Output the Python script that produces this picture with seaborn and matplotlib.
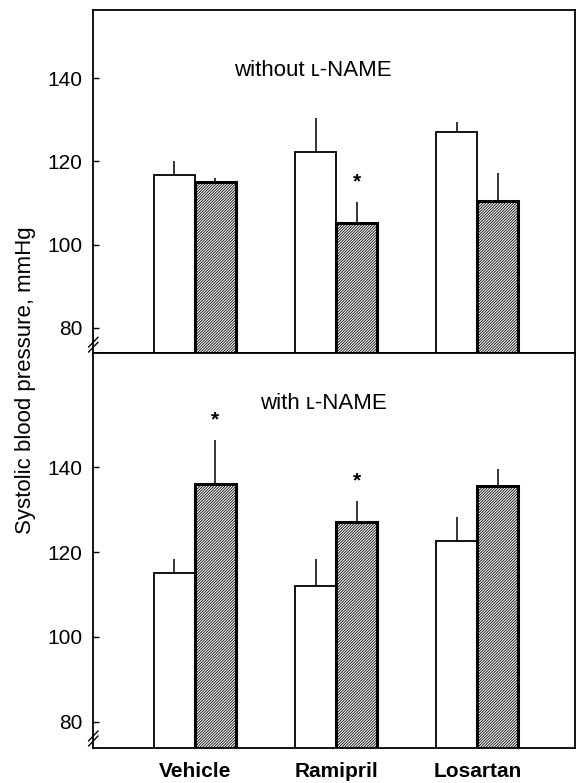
import matplotlib
matplotlib.use("Agg")
import matplotlib.pyplot as plt
import matplotlib.transforms as mtransforms
import pandas as pd
import seaborn as sns

drugs = ["Vehicle", "Ramipril", "Losartan"]
groups = ["control", "treated"]
yticks = [80, 100, 120, 140]

# without L-NAME
top_control = [116.7, 122.3, 127.1]
top_control_err = [3.3, 8.0, 2.3]
top_treated = [115.0, 105.3, 110.5]
top_treated_err = [1.0, 5.0, 6.6]
top_stars = [False, True, False]

# with L-NAME
bottom_control = [115.0, 111.9, 122.5]
bottom_control_err = [3.3, 6.5, 5.8]
bottom_treated = [136.1, 127.1, 135.7]
bottom_treated_err = [10.4, 4.9, 3.8]
bottom_stars = [True, True, False]

sns.set_theme(style="white")
plt.rcParams["font.family"] = ["Liberation Sans", "DejaVu Sans"]
plt.rcParams["hatch.linewidth"] = 0.6
plt.rcParams["hatch.color"] = "black"
plt.rcParams["text.color"] = "black"
plt.rcParams["xtick.color"] = "black"
plt.rcParams["ytick.color"] = "black"


def add_break(ax, fig, y_break):
    # small "//" on the left spine
    trans = mtransforms.blended_transform_factory(ax.transAxes, ax.transData)
    for dy in (-2.5, 2.5):
        t = trans + mtransforms.ScaledTranslation(0, dy / 100, fig.dpi_scale_trans)
        ax.plot([-0.010, 0.010], [y_break - 1.2, y_break + 1.2], color="black",
                lw=1.0, transform=t, clip_on=False)


def draw_panel(ax, fig, control, control_err, treated, treated_err, stars,
               title, title_pos, ylim):
    df = pd.DataFrame({
        "drug": drugs * 2,
        "group": ["control"] * 3 + ["treated"] * 3,
        "sbp": control + treated,
    })
    sns.barplot(data=df, x="drug", y="sbp", hue="group", order=drugs,
                hue_order=groups, palette=["white", "white"], saturation=1,
                errorbar=None, width=0.58, legend=False, ax=ax)
    white_bars, hatched_bars = ax.containers[0], ax.containers[1]
    for bar in white_bars:
        bar.set_edgecolor("black")
        bar.set_linewidth(1.3)
    for bar in hatched_bars:
        bar.set_edgecolor("black")
        bar.set_linewidth(2.2)
        bar.set_hatch("/" * 12)

    for bars, errs in ((white_bars, control_err), (hatched_bars, treated_err)):
        for bar, e in zip(bars, errs):
            xc = bar.get_x() + bar.get_width() / 2
            h = bar.get_height()
            ax.vlines(xc, h, h + e, color="black", lw=1.1)

    for bar, e, s in zip(hatched_bars, treated_err, stars):
        if s:
            xc = bar.get_x() + bar.get_width() / 2
            ax.text(xc, bar.get_height() + e + 4.8, "*", ha="center",
                    va="center", fontsize=15, fontweight="bold")

    ax.text(title_pos[0], title_pos[1], title, transform=ax.transAxes,
            ha="center", va="center", fontsize=16)
    ax.set_xlim(-0.72, 2.69)
    ax.set_ylim(*ylim)
    ax.set_yticks(yticks)
    ax.set_xlabel("")
    ax.set_ylabel("")
    ax.tick_params(axis="y", direction="in", length=4, width=1.0, pad=8,
                   labelsize=15, left=True)
    for sp in ax.spines.values():
        sp.set_color("black")
        sp.set_linewidth(1.3)
    add_break(ax, fig, 76)


fig = plt.figure(figsize=(5.83, 7.83), dpi=100)
gs = fig.add_gridspec(2, 1, height_ratios=[343, 395], hspace=0,
                      left=0.16, right=0.986, top=0.987, bottom=0.045)
ax_top = fig.add_subplot(gs[0])
ax_bot = fig.add_subplot(gs[1])

draw_panel(ax_top, fig, top_control, top_control_err, top_treated,
           top_treated_err, top_stars, "without \u029f-NAME", (0.456, 0.825),
           (74, 156.3))
draw_panel(ax_bot, fig, bottom_control, bottom_control_err, bottom_treated,
           bottom_treated_err, bottom_stars, "with \u029f-NAME", (0.477, 0.873),
           (73.8, 167))

ax_top.tick_params(axis="x", length=0, labelbottom=False)
ax_bot.tick_params(axis="x", length=0, pad=10, labelsize=15)
for lab in ax_bot.get_xticklabels():
    lab.set_fontweight("bold")

fig.text(0.043, 0.515, "Systolic blood pressure, mmHg", rotation=90,
         ha="center", va="center", fontsize=16)

fig.savefig("out.png", dpi=100)
